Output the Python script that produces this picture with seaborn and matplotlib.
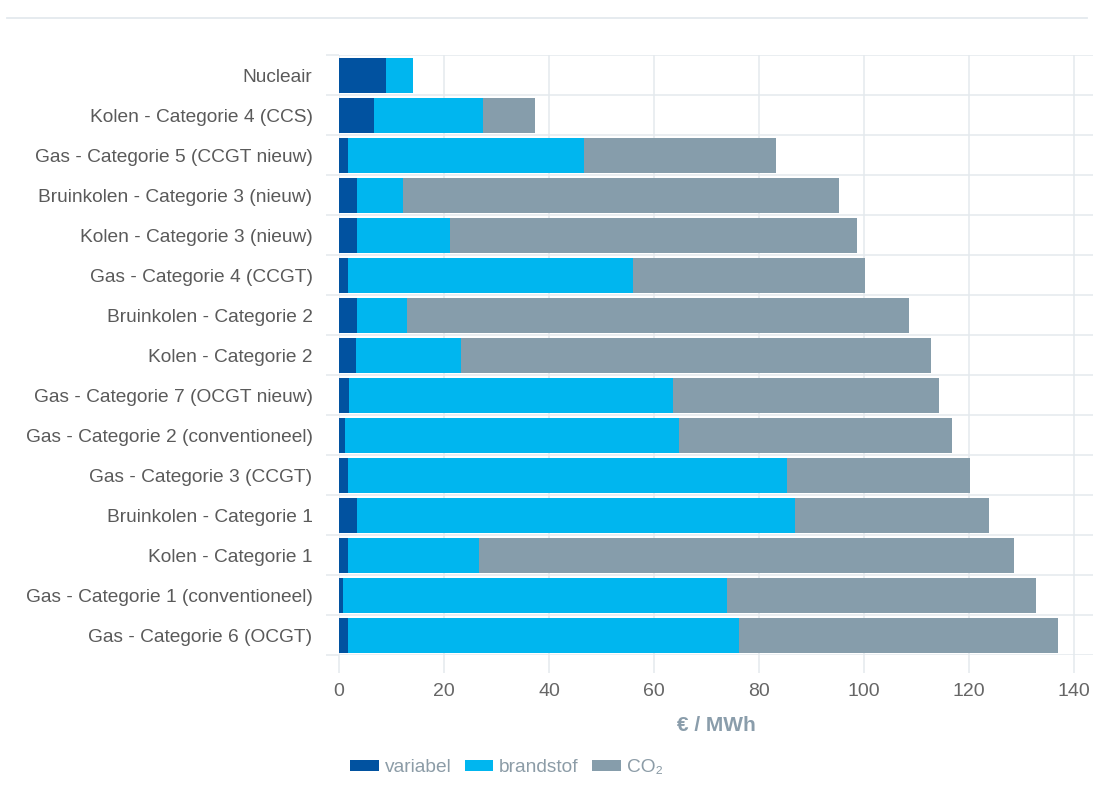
import numpy as np
import pandas as pd
import matplotlib
matplotlib.use("Agg")
import matplotlib.pyplot as plt
from matplotlib.patches import Patch
from matplotlib.lines import Line2D
import seaborn as sns

categories = [
    "Nucleair",
    "Kolen - Categorie 4 (CCS)",
    "Gas - Categorie 5 (CCGT nieuw)",
    "Bruinkolen - Categorie 3 (nieuw)",
    "Kolen - Categorie 3 (nieuw)",
    "Gas - Categorie 4 (CCGT)",
    "Bruinkolen - Categorie 2",
    "Kolen - Categorie 2",
    "Gas - Categorie 7 (OCGT nieuw)",
    "Gas - Categorie 2 (conventioneel)",
    "Gas - Categorie 3 (CCGT)",
    "Bruinkolen - Categorie 1",
    "Kolen - Categorie 1",
    "Gas - Categorie 1 (conventioneel)",
    "Gas - Categorie 6 (OCGT)",
]
variabel = [9.0, 6.7, 1.7, 3.4, 3.4, 1.7, 3.4, 3.2, 1.9, 1.1, 1.7, 3.4, 1.7, 0.8, 1.7]
brandstof = [5.1, 20.7, 45.0, 8.8, 17.7, 54.3, 9.6, 20.1, 61.7, 63.7, 83.7, 83.5, 25.0, 73.0, 74.5]
co2 = [0.0, 9.9, 36.6, 83.0, 77.6, 44.2, 95.6, 89.5, 50.7, 52.0, 34.7, 36.8, 101.9, 59.0, 60.8]

series_names = ["variabel", "brandstof", "CO\u2082"]
series_colors = ["#0152a0", "#00b6ef", "#869dab"]
x_ticks = [0, 20, 40, 60, 80, 100, 120, 140]
x_title = "\u20ac / MWh"

df = pd.DataFrame({"categorie": categories, "variabel": variabel,
                   "brandstof": brandstof, "co2": co2})
df["c1"] = df["variabel"]
df["c2"] = df["c1"] + df["brandstof"]
df["c3"] = df["c2"] + df["co2"]

W, H = 1094, 787
fig = plt.figure(figsize=(W / 100, H / 100), dpi=100)
ax = fig.add_axes([339 / W, 1 - 655 / H, (1093 - 339) / W, 600 / H])

grid_col = "#e4e9ee"
font = ["Liberation Sans", "DejaVu Sans"]

# stacked bars: draw cumulative totals from the back to the front
for col, color in zip(["c3", "c2", "c1"], series_colors[::-1]):
    sns.barplot(data=df, x=col, y="categorie", orient="h", color=color,
                width=0.875, linewidth=0, errorbar=None, saturation=1, ax=ax)

ax.set_xlim(0, 143.6)
ax.set_ylim(len(categories) - 0.5, -0.5)
ax.set_axisbelow(True)
for s in ax.spines.values():
    s.set_visible(False)

ax.set_xticks(x_ticks)
ax.set_xticklabels([str(t) for t in x_ticks], fontfamily=font, fontsize=14,
                   color="#666666")
ax.tick_params(axis="x", length=13, width=1.1, color=grid_col, pad=7)
ax.grid(axis="x", color=grid_col, linewidth=1.1)

ax.set_yticks(np.arange(len(categories)))
ax.set_yticklabels(categories, fontfamily=font, fontsize=13.8, color="#5a5a5a")
ax.set_yticks(np.arange(-0.5, len(categories)), minor=True)
ax.tick_params(axis="y", which="major", length=0, pad=19)
ax.tick_params(axis="y", which="minor", length=9.5, width=1.1, color=grid_col)
ax.grid(axis="y", which="minor", color=grid_col, linewidth=1.1)
ax.grid(axis="y", which="major", visible=False)

ax.set_ylabel("")
ax.set_xlabel(x_title, fontfamily=font, fontsize=15, fontweight="bold",
              color="#8a9dab", labelpad=12)

# thin separator line at the very top
fig.add_artist(Line2D([7 / W, 1087 / W], [1 - 18 / H, 1 - 18 / H],
                      color="#e4e9ee", linewidth=1.3))

handles = [Patch(facecolor=c, edgecolor="none") for c in series_colors]
leg = fig.legend(handles, series_names, loc="center left",
                 bbox_to_anchor=(350 / W, 1 - 768 / H), frameon=False,
                 prop={"family": font, "size": 13.8},
                 ncol=3, handlelength=1.5, handleheight=0.5,
                 handletextpad=0.3, columnspacing=0.7,
                 borderpad=0, borderaxespad=0)
for t in leg.get_texts():
    t.set_color("#8c9ca7")

fig.savefig("out.png", dpi=100, facecolor="white")
